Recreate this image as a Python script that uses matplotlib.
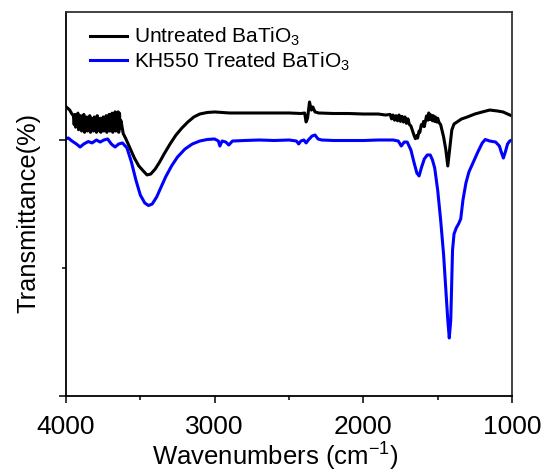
"""FTIR spectra of untreated and KH550-treated BaTiO3"""
import matplotlib
matplotlib.use("Agg")
from matplotlib import pyplot as plt
from matplotlib.ticker import FixedLocator, NullFormatter

# wavenumber (cm-1) and transmittance (arb. units, offset) for each sample
wn_untreated = [
    4000, 3990, 3975, 3960,
    3950, 3945, 3940, 3935, 3930, 3925, 3920, 3915, 3910, 3905, 3900, 3895,
    3890, 3885, 3880, 3875, 3870, 3865, 3860, 3855, 3850, 3845, 3840, 3835,
    3830, 3825, 3820, 3815, 3810, 3805, 3800, 3795, 3790, 3785, 3780, 3775,
    3770, 3765, 3760, 3755, 3750, 3745, 3740, 3735, 3730, 3725, 3720, 3715,
    3710, 3705, 3700, 3695, 3690, 3685, 3680, 3675, 3670, 3665, 3660, 3655,
    3650, 3645, 3640, 3635, 3630,
    3615, 3600, 3570, 3540, 3510, 3480, 3455, 3430, 3400, 3370, 3340, 3300,
    3260, 3220, 3180, 3140, 3100, 3050, 3000, 2900, 2800, 2700, 2600, 2500,
    2420, 2395, 2385, 2375, 2362, 2350, 2340, 2325, 2300, 2200, 2100, 2000,
    1900, 1850, 1820, 1810, 1800, 1790, 1780, 1770, 1760, 1750, 1740, 1730,
    1720, 1710, 1700, 1690, 1680, 1670, 1660, 1650, 1640, 1635, 1625, 1620,
    1610, 1600, 1595, 1590, 1580, 1575, 1565, 1560, 1550, 1545, 1535, 1530,
    1520, 1515, 1505, 1500, 1490, 1480, 1460, 1445, 1432, 1420, 1405, 1390,
    1370, 1340, 1300, 1250, 1200, 1150, 1100, 1060, 1030, 1000,
]
t_untreated = [
    226.0, 225.0, 223.4, 220.3,
    219.0, 212.0, 220.0, 210.0, 218.0, 211.0, 221.0, 208.0, 217.0, 209.0, 219.0, 207.0,
    216.0, 210.0, 220.0, 206.0, 215.0, 208.0, 218.0, 207.0, 216.0, 209.0, 219.0, 206.0,
    217.0, 210.0, 215.0, 207.0, 218.0, 208.0, 216.0, 206.0, 219.0, 209.0, 214.0, 207.0,
    217.0, 206.0, 216.0, 210.0, 218.0, 207.0, 215.0, 208.0, 219.0, 206.0, 217.0, 209.0,
    220.0, 207.0, 216.0, 208.0, 221.0, 206.0, 218.0, 209.0, 222.0, 207.0, 219.0, 208.0,
    222.0, 206.0, 221.0, 209.0, 215.0,
    205.0, 201.6, 193.8, 185.9, 179.7, 175.8, 172.7, 173.4, 177.3, 182.8, 189.1, 196.9,
    203.9, 209.4, 214.1, 218.0, 220.3, 221.5, 221.9, 221.1, 221.1, 221.1, 221.1, 221.1,
    220.7, 221.1, 214.1, 217.2, 229.7, 223.4, 225.8, 221.9, 221.1, 220.7, 220.7, 220.3,
    220.3, 219.5, 220.0, 216.5, 219.5, 215.5, 219.0, 215.0, 219.5, 214.5, 218.5, 214.0,
    218.0, 213.0, 216.5, 212.0, 211.0, 207.5, 204.0, 201.0, 203.5, 201.5, 207.0, 206.0,
    212.0, 211.0, 214.5, 210.5, 216.0, 218.8, 215.5, 221.1, 216.0, 219.5, 215.0, 219.0,
    214.5, 218.0, 214.0, 217.0, 213.5, 212.0, 202.3, 192.2,
    179.7, 192.2, 207.8, 212.5,
    214.1, 216.4, 218.0, 220.3, 221.9, 223.4, 222.7, 221.9, 220.3, 218.8,
]

wn_treated = [
    4000, 3985, 3960, 3930, 3905, 3880, 3850, 3825, 3795, 3770, 3745, 3720,
    3695, 3670, 3645, 3620, 3590, 3560, 3530, 3500, 3470, 3445, 3420, 3390,
    3360, 3330, 3290, 3250, 3200, 3150, 3100, 3050, 3000, 2975, 2965, 2950,
    2925, 2905, 2880, 2800, 2700, 2600, 2500, 2450, 2435, 2420, 2400, 2385,
    2370, 2345, 2325, 2305, 2280, 2200, 2000, 1900, 1800, 1765, 1745, 1725,
    1705, 1680, 1660, 1640, 1625, 1610, 1590, 1570, 1550, 1535, 1520, 1500,
    1480, 1460, 1445, 1432, 1422, 1412, 1400, 1390, 1375, 1360, 1345, 1330,
    1310, 1290, 1260, 1230, 1200, 1180, 1150, 1110, 1085, 1070, 1058, 1045,
    1030, 1015, 1000,
]
t_treated = [
    200.8, 201.6, 199.2, 196.9, 194.5, 196.9, 198.8, 197.7, 200.0, 198.4, 200.0, 200.8,
    196.9, 194.5, 196.9, 197.7, 193.8, 182.8, 168.8, 157.0, 150.8, 148.8, 150.0, 155.5,
    163.3, 171.1, 179.7, 186.7, 192.9, 196.9, 199.2, 200.4, 200.8, 199.2, 195.3, 199.2,
    198.4, 196.1, 199.2, 199.6, 200.0, 199.6, 200.0, 199.2, 196.9, 199.2, 200.0, 197.7,
    200.0, 203.1, 203.9, 200.8, 200.0, 199.6, 199.6, 200.0, 200.0, 199.2, 195.3, 198.4,
    198.4, 192.2, 182.8, 174.2, 171.9, 178.1, 185.2, 188.3, 188.3, 184.4, 178.1, 160.9,
    137.5, 110.2, 82.8, 59.4, 45.3, 59.4, 114.1, 126.6, 131.3, 134.4, 138.3, 153.1,
    166.4, 175.0, 182.8, 190.6, 197.7, 200.4, 199.2, 198.4, 195.3, 189.8, 185.9, 190.6,
    196.9, 199.2, 200.0,
]

labels = ["Untreated BaTiO$_3$", "KH550 Treated BaTiO$_3$"]

plt.rcParams["font.family"] = "Liberation Sans"
plt.rcParams["mathtext.fontset"] = "custom"
plt.rcParams["mathtext.rm"] = "Liberation Sans"
plt.rcParams["mathtext.it"] = "Liberation Sans:italic"

fig = plt.figure(figsize=(5.44, 4.72), dpi=100)
ax = fig.add_axes([0.1213, 0.161, 0.8199, 0.8136])

ax.plot(wn_untreated, t_untreated, color="black", linewidth=2.2, label=labels[0])
ax.plot(wn_treated, t_treated, color="#0000ff", linewidth=2.2, label=labels[1])

ax.set_xlim(4000, 1000)
ax.set_ylim(0, 300)
ax.set_xticks([4000, 3000, 2000, 1000])
ax.xaxis.set_minor_locator(FixedLocator([3500, 2500, 1500]))
ax.set_yticks([0, 200])
ax.yaxis.set_minor_locator(FixedLocator([100]))
ax.yaxis.set_major_formatter(NullFormatter())
ax.tick_params(axis="x", which="major", direction="out", length=5, width=1.1,
               labelsize=19, pad=9)
ax.tick_params(axis="y", which="major", direction="out", length=5, width=1.1)
ax.tick_params(axis="both", which="minor", direction="out", length=3, width=1.1)

for side in ["left", "bottom", "top", "right"]:
    ax.spines[side].set_linewidth(1.3)
ax.spines["right"].set_color("#333333")
ax.spines["top"].set_color("#333333")

ax.set_xlabel("Wavenumbers (cm$^{-1}$)", fontsize=18.5, va="baseline")
ax.xaxis.set_label_coords(0.47, -0.18)
ax.set_ylabel("Transmittance(%)", fontsize=18.3)
ax.yaxis.set_label_coords(-0.058, 0.477)

leg = ax.legend(loc="upper left", bbox_to_anchor=(0.035, 0.985), frameon=False,
                fontsize=15, handlelength=1.8, handletextpad=0.3,
                labelspacing=0.1, borderaxespad=0.0)

fig.savefig("out.png", dpi=100)
